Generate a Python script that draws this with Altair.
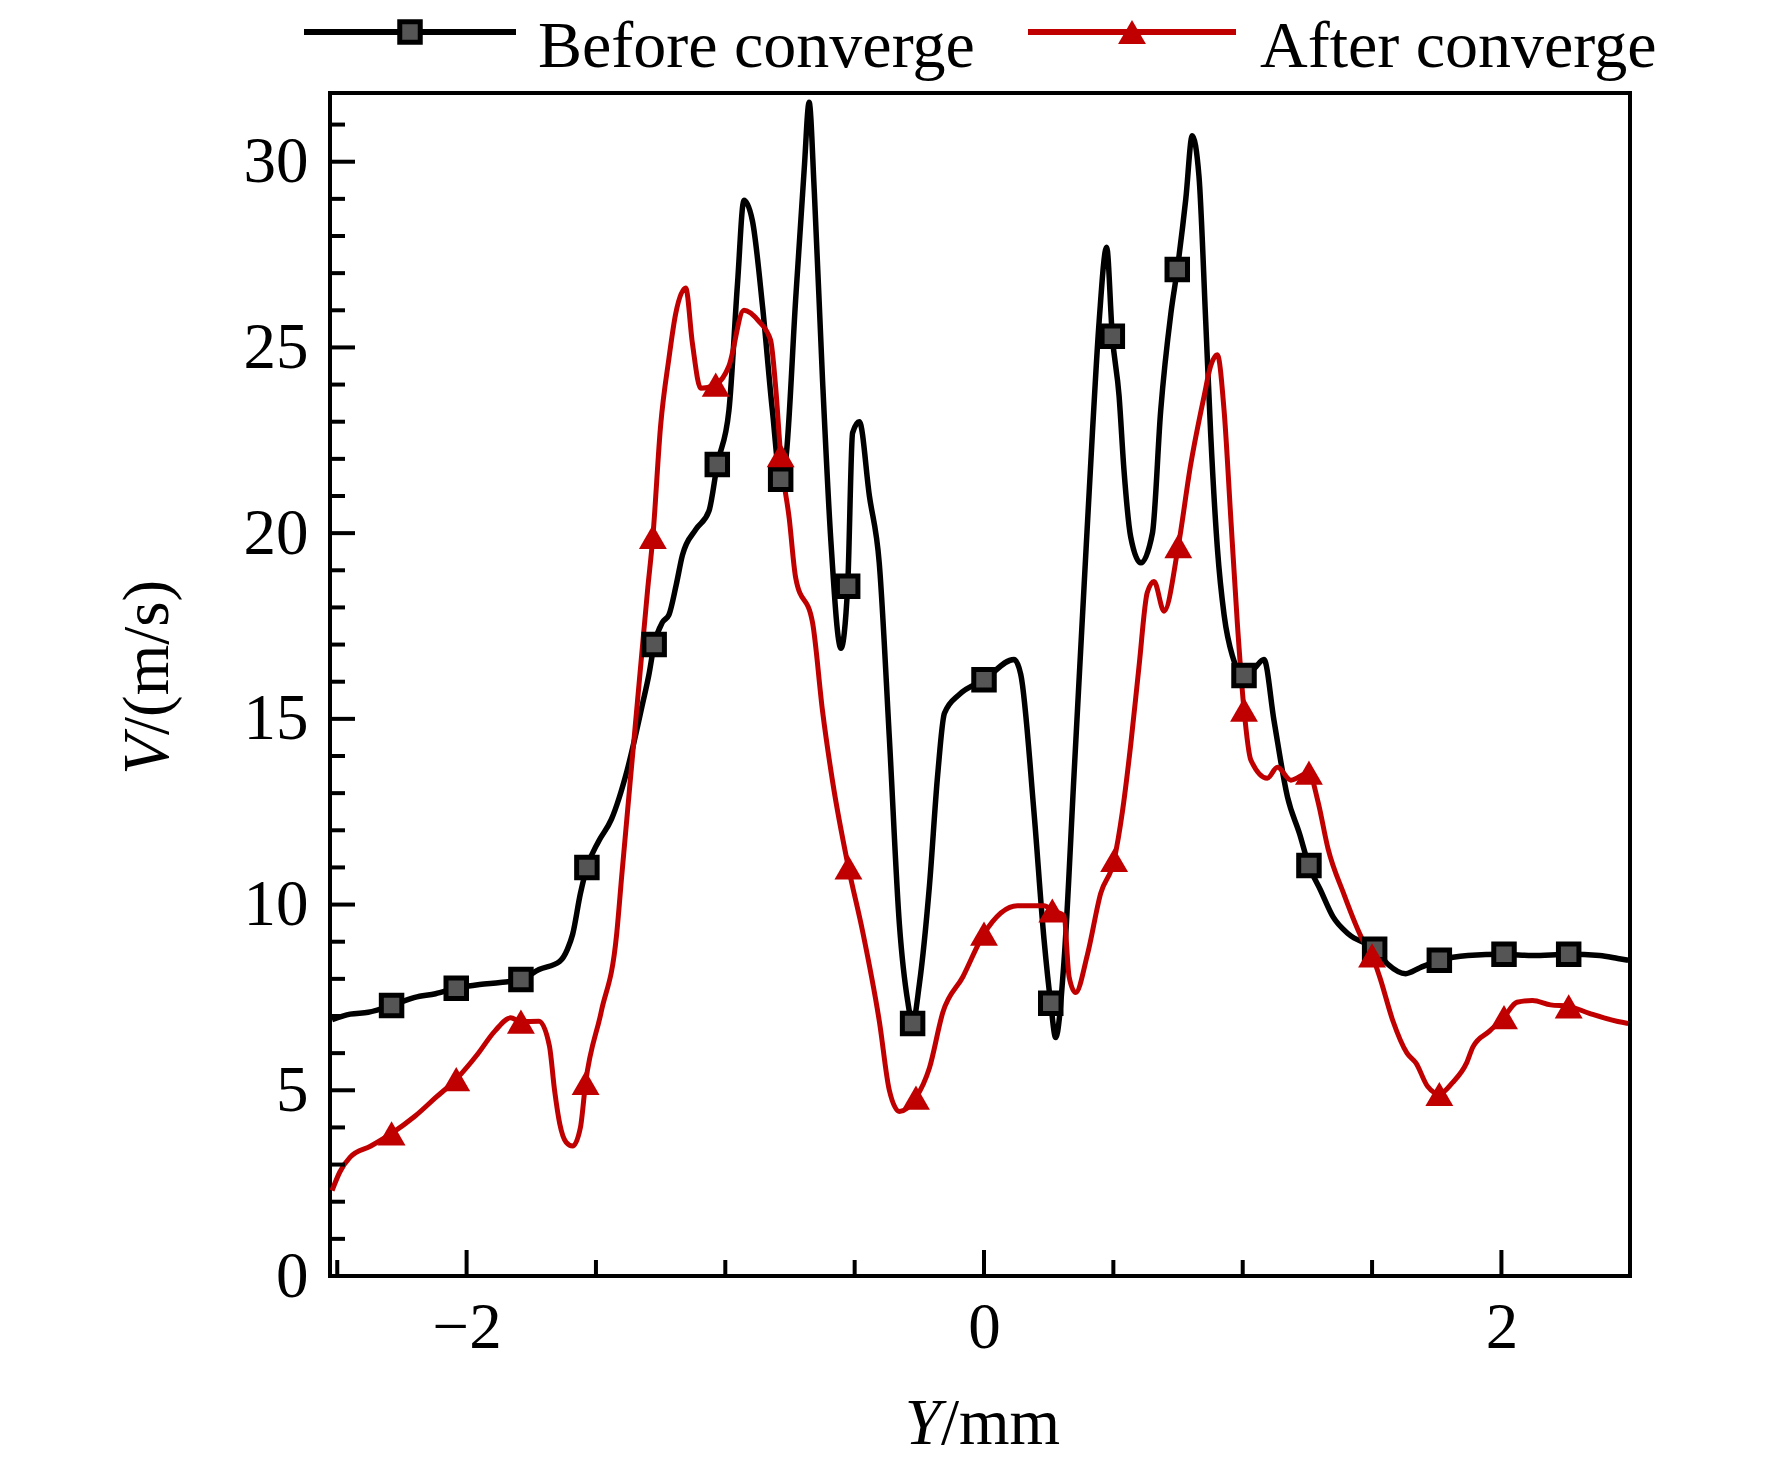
import altair as alt
import pandas as pd

# ---------------- data ----------------
before_x = [-2.52, -2.45, -2.38, -2.29, -2.20, -2.12, -2.04, -1.95, -1.87, -1.79,
            -1.72, -1.64, -1.61, -1.59, -1.56, -1.535, -1.49, -1.44, -1.38, -1.32,
            -1.295, -1.275, -1.243, -1.218, -1.19, -1.166, -1.114, -1.063, -1.031, -0.986,
            -0.953, -0.928, -0.895, -0.856, -0.818, -0.786, -0.766, -0.728, -0.695, -0.676,
            -0.656, -0.624, -0.592, -0.553, -0.527, -0.508, -0.482, -0.443, -0.405, -0.366,
            -0.327, -0.295, -0.276, -0.25, -0.211, -0.179, -0.153, -0.095, 0.0, 0.116,
            0.142, 0.193, 0.232, 0.258, 0.277, 0.309, 0.348, 0.387, 0.419, 0.445,
            0.474, 0.496, 0.522, 0.541, 0.567, 0.606, 0.651, 0.683, 0.722, 0.747,
            0.780, 0.805, 0.831, 0.857, 0.876, 0.902, 0.928, 0.960, 1.005, 1.044,
            1.082, 1.121, 1.173, 1.22, 1.256, 1.30, 1.35, 1.41, 1.51, 1.56,
            1.63, 1.685, 1.76, 1.87, 2.01, 2.12, 2.26, 2.38, 2.45, 2.49]
before_v = [6.9, 7.05, 7.1, 7.28, 7.5, 7.6, 7.75, 7.85, 7.9, 7.98,
            8.25, 8.47, 8.8, 9.2, 10.3, 11.0, 11.7, 12.3, 13.6, 15.4,
            16.2, 17.0, 17.6, 17.8, 18.6, 19.4, 20.1, 20.6, 21.85, 23.3,
            26.7, 28.96, 28.4, 26.1, 23.3, 21.45, 22.0, 26.3, 29.8, 31.6,
            29.2, 24.1, 19.8, 16.9, 18.57, 22.7, 23.0, 21.0, 19.2, 14.5,
            9.46, 7.4, 6.8, 7.85, 10.5, 13.5, 15.15, 15.66, 16.05, 16.6,
            16.2, 12.5, 9.06, 7.34, 6.42, 8.45, 13.5, 18.6, 22.7, 25.7,
            27.7, 25.3, 23.7, 21.7, 19.9, 19.2, 20.0, 23.3, 25.9, 27.1,
            29.0, 30.7, 29.6, 25.7, 22.7, 19.6, 17.8, 16.7, 16.17, 16.35,
            16.6, 14.95, 12.9, 11.9, 11.05, 10.4, 9.66, 9.2, 8.8, 8.4,
            8.14, 8.3, 8.5, 8.63, 8.66, 8.63, 8.66, 8.63, 8.55, 8.5]

after_x = [-2.52, -2.49, -2.45, -2.37, -2.29, -2.20, -2.12, -2.04, -1.96, -1.89,
           -1.83, -1.79, -1.72, -1.68, -1.66, -1.64, -1.615, -1.59, -1.56, -1.54,
           -1.48, -1.42, -1.40, -1.36, -1.33, -1.30, -1.28, -1.25, -1.218, -1.192,
           -1.153, -1.127, -1.095, -1.037, -0.986, -0.928, -0.870, -0.825, -0.805, -0.786,
           -0.753, -0.728, -0.663, -0.624, -0.585, -0.524, -0.469, -0.404, -0.366, -0.327,
           -0.263, -0.211, -0.159, -0.082, 0.0, 0.129, 0.232, 0.264, 0.309, 0.329,
           0.354, 0.40, 0.451, 0.503, 0.535, 0.567, 0.599, 0.631, 0.657, 0.696,
           0.751, 0.799, 0.851, 0.876, 0.902, 0.928, 0.954, 0.979, 1.005, 1.031,
           1.095, 1.134, 1.186, 1.256, 1.29, 1.33, 1.39, 1.465, 1.50, 1.53,
           1.58, 1.635, 1.67, 1.715, 1.76, 1.81, 1.865, 1.89, 1.955, 2.01,
           2.06, 2.12, 2.19, 2.26, 2.34, 2.45, 2.49]
after_v = [2.3, 2.8, 3.2, 3.5, 3.84, 4.3, 4.8, 5.3, 5.95, 6.6,
           6.95, 6.85, 6.86, 6.2, 5.0, 4.1, 3.6, 3.5, 4.0, 5.2,
           7.1, 9.2, 10.8, 13.9, 16.2, 18.5, 19.9, 22.9, 24.7, 25.9,
           26.6, 25.1, 23.9, 24.0, 24.5, 26.0, 25.7, 25.2, 23.9, 22.1,
           20.4, 18.8, 17.6, 15.2, 13.3, 11.0, 9.27, 6.83, 5.0, 4.43,
           4.8, 5.6, 7.1, 8.05, 9.22, 9.97, 9.97, 9.84, 9.7, 8.05,
           7.63, 8.66, 10.3, 11.2, 12.5, 14.3, 16.4, 18.4, 18.7, 17.9,
           19.65, 21.85, 23.7, 24.5, 24.8, 23.3, 20.4, 17.6, 15.25, 13.9,
           13.4, 13.7, 13.35, 13.55, 12.8, 11.5, 10.3, 9.03, 8.63, 8.04,
           6.88, 6.0, 5.73, 5.1, 4.9, 5.2, 5.73, 6.17, 6.6, 6.97,
           7.37, 7.42, 7.3, 7.26, 7.07, 6.85, 6.8]

# marker positions (every n-th point of each series)
before_mx = [-2.29, -2.04, -1.79, -1.535, -1.275, -1.031, -0.786, -0.527, -0.276, 0.0,
             0.258, 0.496, 0.747, 1.005, 1.256, 1.51, 1.76, 2.01, 2.26]
before_mv = [7.28, 7.75, 7.98, 11.0, 17.0, 21.85, 21.45, 18.57, 6.8, 16.05,
             7.34, 25.3, 27.1, 16.17, 11.05, 8.8, 8.5, 8.66, 8.66]
after_mx = [-2.29, -2.04, -1.79, -1.54, -1.28, -1.037, -0.786, -0.524, -0.263, 0.0,
            0.264, 0.503, 0.751, 1.005, 1.256, 1.50, 1.76, 2.01, 2.26]
after_mv = [3.84, 5.3, 6.85, 5.2, 19.9, 24.0, 22.1, 11.0, 4.8, 9.22,
            9.84, 11.2, 19.65, 15.25, 13.55, 8.63, 4.9, 6.97, 7.26]

series_names = ["Before converge", "After converge"]
x_label_values = [-2, 0, 2]
x_minor_ticks = [-2.5, -1.5, -1.0, -0.5, 0.5, 1.0, 1.5]
y_label_values = [0, 5, 10, 15, 20, 25, 30]
y_minor_ticks = [v for v in range(1, 32) if v % 5 != 0]

# ---------------- layout constants ----------------
W, H = 1300, 1183
FONT = "Liberation Serif"
RED = "#c00000"

xscale = alt.Scale(domain=[-2.528, 2.497], nice=False, zero=False)
yscale = alt.Scale(domain=[0, 31.85], nice=False, zero=False)

df_b = pd.DataFrame({"x": before_x, "v": before_v})
df_a = pd.DataFrame({"x": after_x, "v": after_v})
df_bm = pd.DataFrame({"x": before_mx, "v": before_mv})
df_am = pd.DataFrame({"x": after_mx, "v": after_mv})

xaxis = alt.Axis(values=x_label_values, format="d", title=None, ticks=False, domain=False,
                 grid=False, labelFont=FONT, labelFontSize=65, labelColor="black",
                 labelPadding=20, labelFlush=False, labelOverlap=False)
yaxis = alt.Axis(values=y_label_values, format="d", title=None, ticks=False, domain=False,
                 grid=False, labelFont=FONT, labelFontSize=65, labelColor="black",
                 labelPadding=22, labelFlush=False, labelOverlap=False)

SQ = dict(shape="square", filled=True, fill="#555555", stroke="black", size=420,
          strokeWidth=5, opacity=1)
TRI = dict(shape="triangle-up", filled=True, color=RED, size=780, opacity=1)

line_b = alt.Chart(df_b).mark_line(color="black", strokeWidth=5.5, interpolate="monotone", clip=True).encode(
    x=alt.X("x:Q", scale=xscale, axis=xaxis),
    y=alt.Y("v:Q", scale=yscale, axis=yaxis),
)
line_a = alt.Chart(df_a).mark_line(color=RED, strokeWidth=5, interpolate="monotone", clip=True).encode(
    x=alt.X("x:Q", scale=xscale), y=alt.Y("v:Q", scale=yscale)
)
pts_b = alt.Chart(df_bm).mark_point(**SQ).encode(
    x=alt.X("x:Q", scale=xscale), y=alt.Y("v:Q", scale=yscale)
)
pts_a = alt.Chart(df_am).mark_point(**TRI).encode(
    x=alt.X("x:Q", scale=xscale), y=alt.Y("v:Q", scale=yscale)
)

# inward ticks
xt_major = alt.Chart(pd.DataFrame({"x": x_label_values})).mark_rule(color="black", strokeWidth=4).encode(
    x=alt.X("x:Q", scale=xscale), y=alt.value(H), y2=alt.value(H - 26))
xt_minor = alt.Chart(pd.DataFrame({"x": x_minor_ticks})).mark_rule(color="black", strokeWidth=4).encode(
    x=alt.X("x:Q", scale=xscale), y=alt.value(H), y2=alt.value(H - 16))
yt_major = alt.Chart(pd.DataFrame({"v": y_label_values})).mark_rule(color="black", strokeWidth=4).encode(
    y=alt.Y("v:Q", scale=yscale), x=alt.value(0), x2=alt.value(25))
yt_minor = alt.Chart(pd.DataFrame({"v": y_minor_ticks})).mark_rule(color="black", strokeWidth=4).encode(
    y=alt.Y("v:Q", scale=yscale), x=alt.value(0), x2=alt.value(15))

# axis titles with italic variable letters
def txt(s, x, y, italic=False, align="left", angle=0, size=65):
    kw = dict(font=FONT, fontSize=size, color="black", align=align, baseline="alphabetic")
    if italic:
        kw["fontStyle"] = "italic"
    if angle:
        kw["angle"] = angle
    return alt.Chart(pd.DataFrame({"t": [s]})).mark_text(**kw).encode(
        text="t:N", x=alt.value(x), y=alt.value(y))

titles = [
    txt("Y", 611, 1351, italic=True, align="right"),
    txt("/mm", 611, 1351),
    txt("V", -162, 642, italic=True, align="right", angle=270),
    txt("/(m/s)", -162, 642, angle=270),
]

# manual legend above the plot
leg_y = -61
legend = [
    alt.Chart(pd.DataFrame({"a": [0]})).mark_rule(color="black", strokeWidth=6).encode(
        x=alt.value(-26), x2=alt.value(186), y=alt.value(leg_y)),
    alt.Chart(pd.DataFrame({"a": [0]})).mark_point(**SQ).encode(
        x=alt.value(80), y=alt.value(leg_y)),
    txt(series_names[0], 208, -26, size=66),
    alt.Chart(pd.DataFrame({"a": [0]})).mark_rule(color=RED, strokeWidth=6).encode(
        x=alt.value(698), x2=alt.value(906), y=alt.value(leg_y)),
    alt.Chart(pd.DataFrame({"a": [0]})).mark_point(**TRI).encode(
        x=alt.value(802), y=alt.value(leg_y)),
    txt(series_names[1], 930, -26, size=66),
]

chart = alt.layer(
    line_b, line_a, pts_b, pts_a, xt_major, xt_minor, yt_major, yt_minor, *titles, *legend
).properties(
    width=W, height=H,
    autosize=alt.AutoSizeParams(type="none"),
    padding={"left": 322, "top": 85, "right": 100, "bottom": 183},
).configure(
    background="white",
    view=alt.ViewConfig(stroke="black", strokeWidth=4),
)

chart.save("out.html", embed_options={"renderer": "svg", "actions": False})
